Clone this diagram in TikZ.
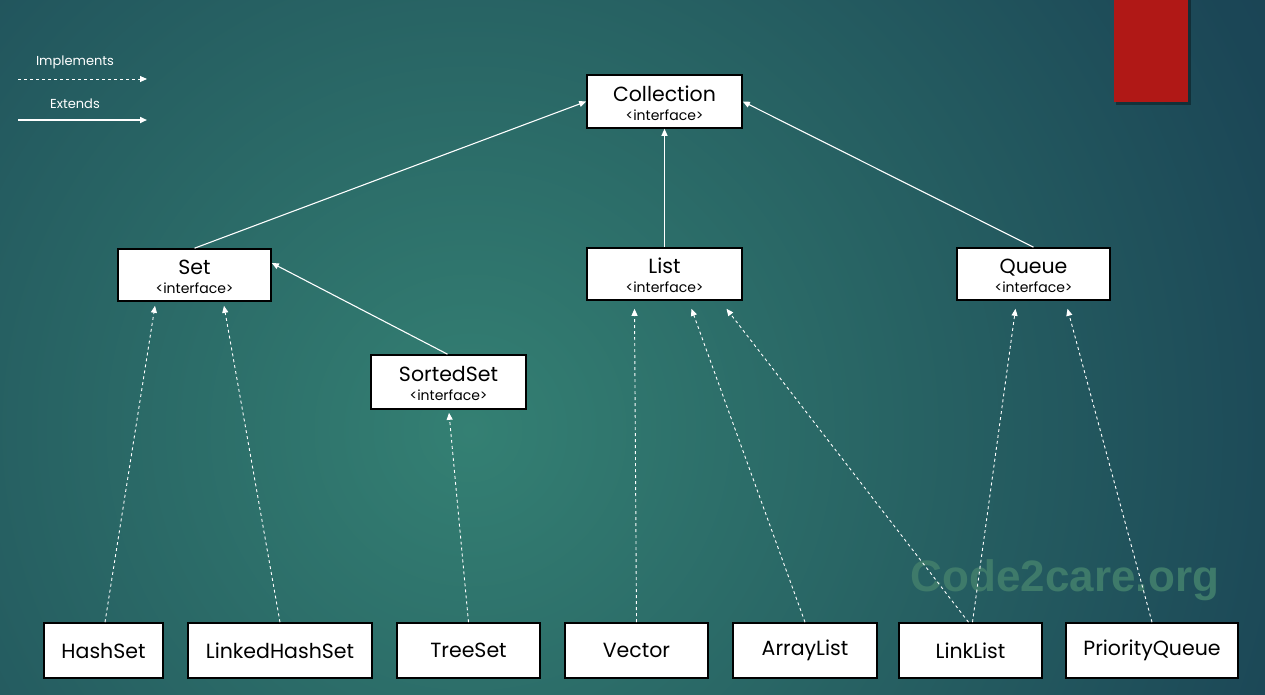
\documentclass[tikz,border=0pt]{standalone}
\usepackage{fontspec}
\setmainfont{Poppins}
\newfontfamily\wmfont{Liberation Sans}
\usetikzlibrary{arrows.meta,calc}
\definecolor{bgin}{RGB}{52,128,115}
\definecolor{bgmid}{RGB}{40,100,100}
\definecolor{bgmid2}{RGB}{27,70,86}
\definecolor{bgout}{RGB}{20,54,75}
\definecolor{redbox}{RGB}{176,24,22}
\definecolor{wmcol}{RGB}{62,122,106}
\pgfdeclareradialshading{bgshade}{\pgfpoint{0bp}{0bp}}{color(0bp)=(bgin); color(13bp)=(bgmid); color(27bp)=(bgmid2); color(45bp)=(bgout); color(50bp)=(bgout)}
\tikzset{
  box/.style={draw=black, line width=1.6pt, fill=white, inner sep=0pt, align=center, text=black},
  ifbox/.style={box, minimum width=153pt, minimum height=52pt, font=\fontsize{14}{21}\selectfont},
  leaf/.style={box, minimum height=55pt, font=\fontsize{20.5}{22}\selectfont},
  ext/.style={draw=white, line width=1.1pt, -{Triangle[length=7pt,width=6pt]}},
  impl/.style={draw=white, line width=0.9pt, dash pattern=on 3pt off 3pt, -{Triangle[length=7pt,width=6pt]}},
  legtext/.style={text=white, font=\fontsize{13}{15}\selectfont, inner sep=0pt}
}
\newcommand{\ifacetext}[1]{\raisebox{-4.5pt}[\height][\depth]{\begin{tabular}{@{}c@{}}{\fontsize{20.5}{21}\selectfont #1}\\[-2pt]{\fontsize{14}{21}\selectfont <interface>}\end{tabular}}}
\begin{document}
\begin{tikzpicture}[x=1pt,y=-1pt]
\useasboundingbox (0,0) rectangle (1265,694);
\begin{scope}
\clip (0,0) rectangle (1265,694);
\shade[shading=bgshade] (-330,-370) rectangle (1270,1230);
\end{scope}
% red tab
\fill[black, opacity=0.35] (1116,0) rectangle (1191,105);
\fill[redbox] (1114,0) rectangle (1188,102);
% watermark
\node[text=wmcol, font=\wmfont\bfseries\fontsize{44}{46}\selectfont, inner sep=0pt] (wm) at (1065,580) {Code2care.org};
% legend
\node[legtext] (limpl) at (75,62) {Implements};
\node[legtext] (lext) at (75,104) {Extends};
\coordinate (li1) at (18,79); \coordinate (li2) at (147,79);
\coordinate (le1) at (18,120); \coordinate (le2) at (147,120);
\draw[impl] (li1) -- (li2);
\draw[ext, line width=1.6pt] (le1) -- (le2);
% interfaces
\node[ifbox, minimum width=155pt, minimum height=53pt] (coll) at (664.5,101.5) {\ifacetext{Collection}};
\node[ifbox] (set) at (194.5,275) {\ifacetext{Set}};
\node[ifbox, minimum width=155pt] (list) at (664.5,274) {\ifacetext{List}};
\node[ifbox] (queue) at (1033.5,274) {\ifacetext{Queue}};
\node[ifbox, minimum width=155pt, minimum height=54pt] (sorted) at (448.5,382) {\ifacetext{SortedSet}};
% classes
\node[leaf, minimum width=119pt] (hash) at (103.5,650.5) {HashSet};
\node[leaf, minimum width=184pt] (lhash) at (280,650.5) {LinkedHashSet};
\node[leaf, minimum width=143pt] (tree) at (468.5,650.5) {TreeSet};
\node[leaf, minimum width=143pt] (vector) at (636.5,650.5) {Vector};
\node[leaf, minimum width=144pt] (alist) at (805,650.5) {ArrayList};
\node[leaf, minimum width=143pt] (llist) at (970.5,650.5) {LinkList};
\node[leaf, minimum width=172pt] (pq) at (1152,650.5) {PriorityQueue};
% extends
\draw[ext] (set.north) -- (coll.west);
\draw[ext] (list.north) -- (coll.south);
\draw[ext] (queue.north) -- (coll.east);
\draw[ext] ($(sorted.north)+(-1,0)$) -- ($(set.east)+(0,-12)$);
% implements
\draw[impl] ($(hash.north)+(1.5,0)$) -- ($(set.south)+(-39.5,4)$);
\draw[impl] (lhash.north) -- ($(set.south)+(29.5,4)$);
\draw[impl] (tree.north) -- ($(sorted.south)+(0.5,3)$);
\draw[impl] (vector.north) -- ($(list.south)+(-30,8)$);
\draw[impl] (alist.north) -- ($(list.south)+(27,8)$);
\draw[impl] ($(llist.north)+(-2,0)$) -- ($(list.south)+(62,8)$);
\draw[impl] ($(llist.north)+(2,0)$) -- ($(queue.south)+(-18,8)$);
\draw[impl] (pq.north) -- ($(queue.south)+(34,8)$);
\end{tikzpicture}
\end{document}
